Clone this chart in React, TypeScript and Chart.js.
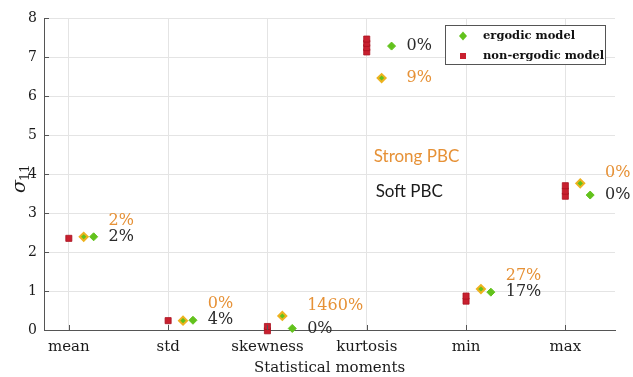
import React, { useEffect, useRef } from 'react';
import { Chart, registerables } from 'chart.js';

Chart.register(...registerables);

// Statistical moments of sigma_11 for each model
const categories = ['mean', 'std', 'skewness', 'kurtosis', 'min', 'max'];

const nonErgodicMean = [2.35];
const nonErgodicStd = [0.24];
const nonErgodicSkewness = [-0.02, 0.09];
const nonErgodicKurtosis = [7.13, 7.24, 7.35, 7.46];
const nonErgodicMin = [0.74, 0.87];
const nonErgodicMax = [3.43, 3.56, 3.7];

const ergodicStrongPBC = [2.39, 0.24, 0.36, 6.46, 1.05, 3.76];
const ergodicSoftPBC = [2.39, 0.25, 0.04, 7.28, 0.97, 3.46];

const strongErrorLabels = ['2%', '0%', '1460%', '9%', '27%', '0%'];
const softErrorLabels = ['2%', '4%', '0%', '0%', '17%', '0%'];

const yTicks = [0, 1, 2, 3, 4, 5, 6, 7, 8];

const nonErgodicByMoment = [
  nonErgodicMean,
  nonErgodicStd,
  nonErgodicSkewness,
  nonErgodicKurtosis,
  nonErgodicMin,
  nonErgodicMax,
];

const RED = '#c9202f';
const RED_EDGE = '#a8121f';
const GREEN = '#62c21c';
const YELLOW = '#eeb21f';
const ORANGE = '#e69136';
const DARK = '#2b2b2b';
const AXIS = '#555555';
const GRID = '#e4e4e4';
const SERIF = '"DejaVu Serif", serif';

const STRONG_OFFSET = 0.15;
const SOFT_OFFSET = 0.25;
const LABEL_OFFSET = 0.4;

const annotationsPlugin = {
  id: 'momentAnnotations',
  afterDraw(chart: any) {
    const { ctx, chartArea: a } = chart;
    const xs = chart.scales.x;
    const ys = chart.scales.y;
    ctx.save();

    // inward tick marks
    ctx.strokeStyle = AXIS;
    ctx.lineWidth = 1;
    ctx.beginPath();
    yTicks.forEach((t) => {
      const py = Math.round(ys.getPixelForValue(t)) + 0.5;
      ctx.moveTo(a.left, py);
      ctx.lineTo(a.left + 5, py);
    });
    categories.forEach((_, i) => {
      const px = Math.round(xs.getPixelForValue(i)) + 0.5;
      ctx.moveTo(px, a.bottom);
      ctx.lineTo(px, a.bottom - 5);
    });
    ctx.stroke();

    // relative error labels
    ctx.font = `16px ${SERIF}`;
    ctx.textAlign = 'left';
    ctx.textBaseline = 'middle';
    categories.forEach((_, i) => {
      const soft = ergodicSoftPBC[i];
      const strong = ergodicStrongPBC[i];
      const softY = soft;
      const strongY =
        strong < soft - 0.3 ? strong : Math.max(soft + 0.42, strong + 0.26);
      const px = xs.getPixelForValue(i + LABEL_OFFSET);
      ctx.fillStyle = ORANGE;
      ctx.fillText(strongErrorLabels[i], px, ys.getPixelForValue(strongY));
      ctx.fillStyle = DARK;
      ctx.fillText(softErrorLabels[i], px, ys.getPixelForValue(softY));
    });

    // boundary condition captions
    ctx.font = '17px Lato, sans-serif';
    ctx.fillStyle = ORANGE;
    ctx.fillText('Strong PBC', xs.getPixelForValue(3.07), ys.getPixelForValue(4.46));
    ctx.fillStyle = '#1a1a1a';
    ctx.fillText('Soft PBC', xs.getPixelForValue(3.09), ys.getPixelForValue(3.56));

    // legend
    const lx = a.right - 170;
    const ly = a.top + 7;
    const lw = 160;
    const lh = 39;
    ctx.fillStyle = '#ffffff';
    ctx.fillRect(lx, ly, lw, lh);
    ctx.strokeStyle = '#555555';
    ctx.strokeRect(lx + 0.5, ly + 0.5, lw, lh);
    const mx = lx + 18;
    const r1 = ly + 11;
    const r2 = ly + 31;
    ctx.fillStyle = GREEN;
    ctx.beginPath();
    ctx.moveTo(mx, r1 - 4.5);
    ctx.lineTo(mx + 4, r1);
    ctx.lineTo(mx, r1 + 4.5);
    ctx.lineTo(mx - 4, r1);
    ctx.closePath();
    ctx.fill();
    ctx.fillStyle = RED;
    ctx.fillRect(mx - 3, r2 - 3, 6, 6);
    ctx.font = `bold 11.5px ${SERIF}`;
    ctx.fillStyle = '#111111';
    ctx.textBaseline = 'middle';
    ctx.fillText('ergodic model', lx + 38, r1);
    ctx.fillText('non-ergodic model', lx + 38, r2);

    // y axis title: sigma with subscript 11
    ctx.translate(22, (a.top + a.bottom) / 2 + 4);
    ctx.rotate(-Math.PI / 2);
    ctx.fillStyle = '#1a1a1a';
    ctx.textBaseline = 'alphabetic';
    ctx.font = `italic 19px ${SERIF}`;
    ctx.fillText('σ', -15, 3);
    ctx.font = `13px ${SERIF}`;
    ctx.fillText('11', -3, 7);
    ctx.restore();
  },
};

export default function App() {
  const canvasRef = useRef<HTMLCanvasElement | null>(null);

  useEffect(() => {
    document.body.style.margin = '0';
    const canvas = canvasRef.current;
    if (!canvas) return;

    const nonErgodicPoints: { x: number; y: number }[] = [];
    nonErgodicByMoment.forEach((vals, i) => {
      vals.forEach((v) => nonErgodicPoints.push({ x: i, y: v }));
    });
    const strongPoints = ergodicStrongPBC.map((v, i) => ({ x: i + STRONG_OFFSET, y: v }));
    const softPoints = ergodicSoftPBC.map((v, i) => ({ x: i + SOFT_OFFSET, y: v }));

    const chart = new Chart(canvas, {
      type: 'scatter',
      data: {
        datasets: [
          {
            label: 'non-ergodic model',
            data: nonErgodicPoints,
            pointStyle: 'rect',
            pointRadius: 4.3,
            backgroundColor: RED,
            borderColor: RED_EDGE,
            borderWidth: 0.8,
            clip: false,
          },
          {
            label: 'ergodic model (strong PBC)',
            data: strongPoints,
            pointStyle: 'rectRot',
            pointRadius: 4,
            backgroundColor: GREEN,
            borderColor: YELLOW,
            borderWidth: 2,
            clip: false,
          },
          {
            label: 'ergodic model (soft PBC)',
            data: softPoints,
            pointStyle: 'rectRot',
            pointRadius: 4,
            backgroundColor: GREEN,
            borderColor: GREEN,
            borderWidth: 1,
            clip: false,
          },
        ],
      },
      options: {
        responsive: false,
        animation: false,
        events: [],
        layout: { padding: { top: 18, right: 18, left: 0, bottom: 0 } },
        plugins: {
          legend: { display: false },
          title: { display: false },
          tooltip: { enabled: false },
        },
        scales: {
          x: {
            type: 'linear',
            min: -0.25,
            max: 5.5,
            afterBuildTicks: (scale: any) => {
              scale.ticks = categories.map((_, i) => ({ value: i }));
            },
            afterFit: (scale: any) => {
              scale.height = 47;
            },
            ticks: {
              autoSkip: false,
              maxRotation: 0,
              padding: 8,
              color: '#1a1a1a',
              font: { family: SERIF, size: 15 },
              callback: (v: any) => categories[v as number] ?? '',
            },
            grid: { color: GRID, drawTicks: false },
            border: { display: true, color: AXIS, width: 1 },
            title: {
              display: true,
              text: 'Statistical moments',
              color: '#1a1a1a',
              font: { family: SERIF, size: 15, lineHeight: 1.2 },
              padding: { top: 0, bottom: 0 },
            },
          },
          y: {
            type: 'linear',
            min: 0,
            max: 8,
            afterBuildTicks: (scale: any) => {
              scale.ticks = yTicks.map((v) => ({ value: v }));
            },
            afterFit: (scale: any) => {
              scale.width = 44;
            },
            ticks: {
              padding: 7,
              color: '#1a1a1a',
              font: { family: SERIF, size: 14 },
            },
            grid: { color: GRID, drawTicks: false },
            border: { display: true, color: AXIS, width: 1 },
          },
        },
      },
      plugins: [annotationsPlugin],
    } as any);

    return () => chart.destroy();
  }, []);

  return (
    <div style={{ width: 633, height: 377, background: '#ffffff' }}>
      <canvas ref={canvasRef} width={633} height={377} />
    </div>
  );
}
